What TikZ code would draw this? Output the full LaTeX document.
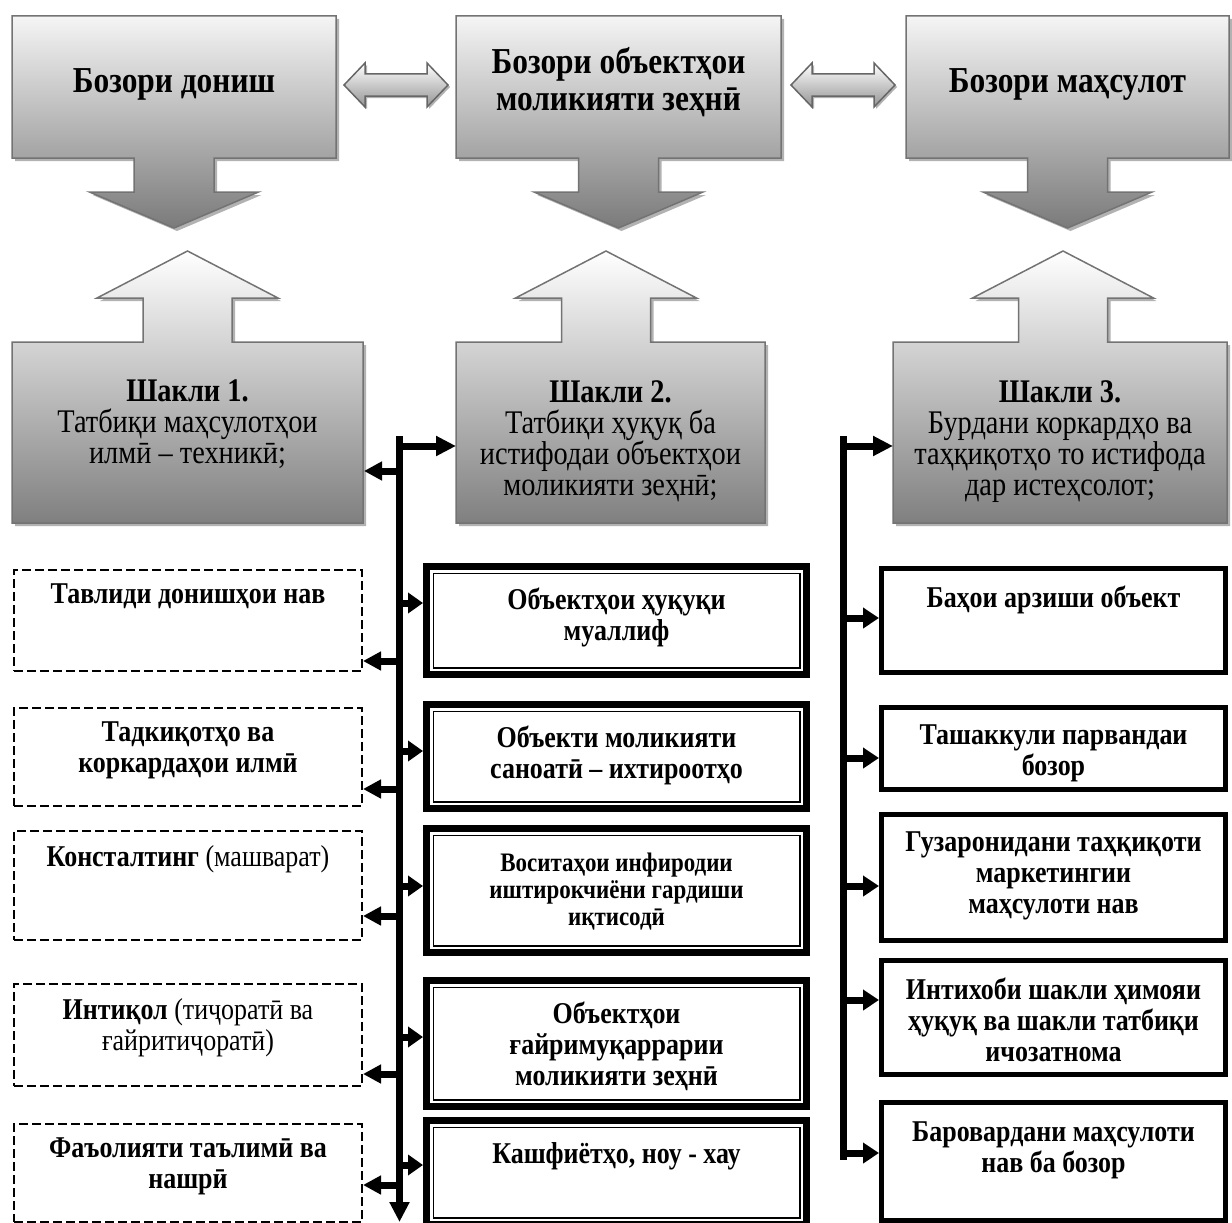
\documentclass[tikz,border=0pt]{standalone}
\usepackage{fontspec}
\setmainfont{Liberation Serif}[FakeStretch=0.86]
\usetikzlibrary{arrows.meta,positioning,shadows}

\tikzset{
  ttl/.style={font=\fontsize{36.5}{37}\selectfont\bfseries, align=center},
  frm/.style={font=\fontsize{33}{31}\selectfont, align=center, anchor=north, inner sep=0pt},
  lbl/.style={font=\fontsize{30.2}{31}\selectfont\bfseries, align=center, inner sep=0pt},
  small/.style={font=\fontsize{26.7}{27}\selectfont\bfseries},
  topcall/.style={draw=black!55, line width=1.5pt, top color=black!4, bottom color=black!52,
    drop shadow={shadow xshift=3pt, shadow yshift=-3pt, fill=black!30, opacity=1}},
  botcall/.style={draw=black!55, line width=1.5pt, top color=white, bottom color=black!50,
    drop shadow={shadow xshift=3pt, shadow yshift=-3pt, fill=black!30, opacity=1}},
  twoway/.style={draw=black!60, line width=1.5pt, top color=white, bottom color=black!42,
    drop shadow={shadow xshift=2pt, shadow yshift=-2pt, fill=black!30, opacity=1}},
  dbox/.style={draw, line width=2pt, dash pattern=on 9pt off 4pt, minimum width=348pt, inner sep=0pt},
  mbox/.style={draw, line width=7pt, minimum width=380pt, inner sep=0pt,
    path picture={\draw[line width=1.5pt] ([shift={(6.75pt,-6.75pt)}]path picture bounding box.north west)
      rectangle ([shift={(-6.75pt,6.75pt)}]path picture bounding box.south east);}},
  rbox/.style={draw, line width=5pt, minimum width=344pt, inner sep=0pt},
  bus/.style={line width=7pt},
  link/.style={line width=7pt, -{Triangle[length=20pt,width=19pt]}},
  llink/.style={line width=7pt, -{Triangle[length=18pt,width=18pt]}},
  mlink/.style={line width=7pt, -{Triangle[length=15pt,width=20pt]}},
  rlink/.style={line width=7pt, -{Triangle[length=16pt,width=20pt]}},
}

\begin{document}
\begin{tikzpicture}[x=1pt,y=-1pt]
\useasboundingbox (0,0) rectangle (1232,1223);

% markets with arrows down
\draw[topcall] (12,16) -- (336,16) -- (336,158) -- (214,158) -- (214,192) -- (258.5,192) -- (174,228)
  -- (89.5,192) -- (134,192) -- (134,158) -- (12,158) -- cycle;
\draw[topcall] (456,16) -- (781,16) -- (781,158) -- (658.5,158) -- (658.5,192) -- (703,192) -- (618.5,228)
  -- (534,192) -- (578.5,192) -- (578.5,158) -- (456,158) -- cycle;
\draw[topcall] (906,16) -- (1229,16) -- (1229,158) -- (1107.5,158) -- (1107.5,192) -- (1152,192) -- (1067.5,228)
  -- (983,192) -- (1027.5,192) -- (1027.5,158) -- (906,158) -- cycle;
\node[ttl] (know) at (174,84) {Бозори дониш};
\node[ttl] (ipo) at (618.5,82) {Бозори объектҳои\\моликияти зеҳнӣ};
\node[ttl] (prod) at (1067.5,84) {Бозори маҳсулот};

% two-way arrows
\draw[twoway] (344,85) -- (365,63) -- (365,74) -- (427,74) -- (427,63) -- (448,85) -- (427,107)
  -- (427,96) -- (365,96) -- (365,107) -- cycle;
\draw[twoway] (791,85) -- (812,63) -- (812,74) -- (874,74) -- (874,63) -- (895,85) -- (874,107)
  -- (874,96) -- (812,96) -- (812,107) -- cycle;

% forms with arrows up
\draw[botcall] (187.5,251) -- (278,298) -- (232,298) -- (232,342) -- (363,342) -- (363,523) -- (12,523)
  -- (12,342) -- (143,342) -- (143,298) -- (97,298) -- cycle;
\draw[botcall] (606,251) -- (696.5,298) -- (650.5,298) -- (650.5,342) -- (765,342) -- (765,523) -- (456,523)
  -- (456,342) -- (561.5,342) -- (561.5,298) -- (515.5,298) -- cycle;
\draw[botcall] (1063,251) -- (1153.5,298) -- (1107.5,298) -- (1107.5,342) -- (1227,342) -- (1227,523) -- (893,523)
  -- (893,342) -- (1018.5,342) -- (1018.5,298) -- (972.5,298) -- cycle;
\node[frm] (form1) at (187.5,380) {\textbf{Шакли 1.}\\Татбиқи маҳсулотҳои\\илмӣ – техникӣ;};
\node[frm] (form2) at (610.5,380) {\textbf{Шакли 2.}\\Татбиқи ҳуқуқ ба\\истифодаи объектҳои\\моликияти зеҳнӣ;};
\node[frm] (form3) at (1060,380) {\textbf{Шакли 3.}\\Бурдани коркардҳо ва\\таҳқиқотҳо то истифода\\дар истеҳсолот;};

% left column
\node[dbox, minimum height=101pt] (d1) at (188,620.5) {};
\node[dbox, minimum height=98pt] (d2) at (188,757) {};
\node[dbox, minimum height=109pt] (d3) at (188,885.5) {};
\node[dbox, minimum height=102pt] (d4) at (188,1035) {};
\node[dbox, minimum height=98pt] (d5) at (188,1173) {};
\node[lbl, below=15pt of d1.north] {Тавлиди донишҳои нав};
\node[lbl, below=15pt of d2.north] {Тадкиқотҳо ва\\коркардаҳои илмӣ};
\node[lbl, below=15pt of d3.north] {Консталтинг \textmd{(машварат)}};
\node[lbl, below=15pt of d4.north] {Интиқол \textmd{(тиҷоратӣ ва}\\\textmd{ғайритиҷоратӣ)}};
\node[lbl, below=15pt of d5.north] {Фаъолияти таълимӣ ва\\нашрӣ};

% middle column
\node[mbox, minimum height=108pt] (m1) at (616.5,620.5) {};
\node[mbox, minimum height=104pt] (m2) at (616.5,756.5) {};
\node[mbox, minimum height=124pt] (m3) at (616.5,890.5) {};
\node[mbox, minimum height=126pt] (m4) at (616.5,1043.5) {};
\node[mbox, minimum height=104pt] (m5) at (616.5,1172.5) {};
\node[lbl, below=25pt of m1.north] {Объектҳои ҳуқуқи\\муаллиф};
\node[lbl, below=25pt of m2.north] {Объекти моликияти\\саноатӣ – ихтироотҳо};
\node[lbl, small, below=28pt of m3.north] {Воситаҳои инфиродии\\иштирокчиёни гардиши\\иқтисодӣ};
\node[lbl, below=25pt of m4.north] {Объектҳои\\ғайримуқаррарии\\моликияти зеҳнӣ};
\node[lbl, below=25pt of m5.north] {Кашфиётҳо, ноу - хау};

% right column
\node[rbox, minimum height=104pt] (r1) at (1053.5,620.5) {};
\node[rbox, minimum height=82pt] (r2) at (1053.5,748.5) {};
\node[rbox, minimum height=126pt] (r3) at (1053.5,877.5) {};
\node[rbox, minimum height=114pt] (r4) at (1053.5,1017.5) {};
\node[rbox, minimum height=118pt] (r5) at (1053.5,1161.5) {};
\node[lbl, below=20pt of r1.north] {Баҳои арзиши объект};
\node[lbl, below=20pt of r2.north] {Ташаккули парвандаи\\бозор};
\node[lbl, below=20pt of r3.north] {Гузаронидани таҳқиқоти\\маркетингии\\маҳсулоти нав};
\node[lbl, below=20pt of r4.north] {Интихоби шакли ҳимояи\\ҳуқуқ ва шакли татбиқи\\ичозатнома};
\node[lbl, below=22pt of r5.north] {Баровардани маҳсулоти\\нав ба бозор};

% buses
\coordinate (busL) at (399.5,436);
\coordinate (busLend) at (399.5,1222);
\coordinate (busR) at (843.5,436);
\coordinate (busRend) at (843.5,1160);
\draw[link] (busL) -- (busLend);
\draw[bus] (busR) -- (busRend);

\coordinate (f1in) at (364,471);
\coordinate (f2in) at (456,446);
\coordinate (f3in) at (893,446);
\draw[llink] (busL |- f1in) -- (f1in);
\draw[link] (busL |- f2in) -- (f2in);
\draw[link] (busR |- f3in) -- (f3in);

\coordinate (d1in) at ([yshift=-40.5pt]d1.east);
\coordinate (d2in) at ([yshift=-32pt]d2.east);
\coordinate (d3in) at ([yshift=-30.5pt]d3.east);
\coordinate (d4in) at ([yshift=-39pt]d4.east);
\coordinate (d5in) at ([yshift=-12pt]d5.east);
\draw[llink] (busL |- d1in) -- (d1in);
\draw[llink] (busL |- d2in) -- (d2in);
\draw[llink] (busL |- d3in) -- (d3in);
\draw[llink] (busL |- d4in) -- (d4in);
\draw[llink] (busL |- d5in) -- (d5in);

\coordinate (m1in) at ([yshift=17.5pt]m1.west);
\coordinate (m2in) at ([yshift=5.5pt]m2.west);
\coordinate (m3in) at ([yshift=4.5pt]m3.west);
\coordinate (m4in) at ([yshift=6.5pt]m4.west);
\coordinate (m5in) at ([yshift=7.5pt]m5.west);
\draw[mlink] (busL |- m1in) -- (m1in);
\draw[mlink] (busL |- m2in) -- (m2in);
\draw[mlink] (busL |- m3in) -- (m3in);
\draw[mlink] (busL |- m4in) -- (m4in);
\draw[mlink] (busL |- m5in) -- (m5in);

\coordinate (r1in) at ([yshift=2.5pt]r1.west);
\coordinate (r2in) at ([yshift=-9.5pt]r2.west);
\coordinate (r3in) at ([yshift=-8.5pt]r3.west);
\coordinate (r4in) at ([yshift=17.5pt]r4.west);
\coordinate (r5in) at ([yshift=8.5pt]r5.west);
\draw[rlink] (busR |- r1in) -- (r1in);
\draw[rlink] (busR |- r2in) -- (r2in);
\draw[rlink] (busR |- r3in) -- (r3in);
\draw[rlink] (busR |- r4in) -- (r4in);
\draw[rlink] (busR |- r5in) -- (r5in);
\end{tikzpicture}
\end{document}
